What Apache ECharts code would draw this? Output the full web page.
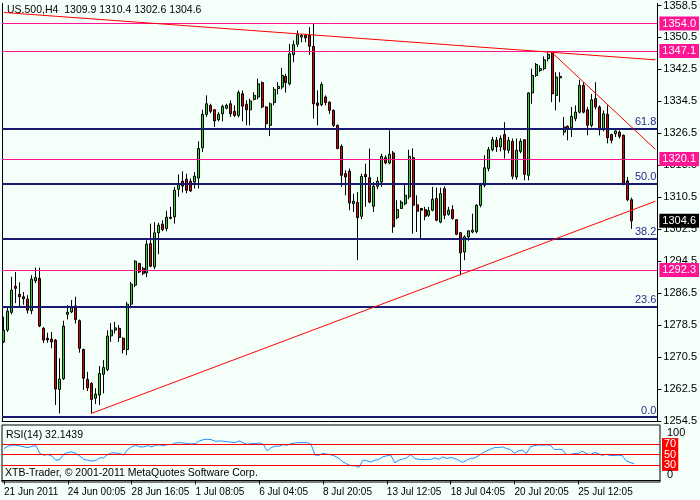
<!DOCTYPE html>
<html><head><meta charset="utf-8">
<script src="https://cdn.jsdelivr.net/npm/echarts@6/dist/echarts.min.js"></script>
<style>html,body{margin:0;padding:0;background:#F5FFFA}#c{width:700px;height:500px}</style>
</head><body><div id="c"></div>
<script>
// ---- data ----
const opens=[1274.3,1277.25,1281.7,1288.2,1286.2,1285.6,1285.0,1282.1,1289.6,1290.2,
1277.7,1275.2,1275.0,1274.75,1262.4,1265.1,1281.2,1281.8,1283.3,1279.6,
1272.4,1264.9,1263.9,1260.2,1261.0,1266.2,1267.4,1275.8,1277.25,1277.7,
1275.2,1272.4,1283.75,1288.5,1293.9,1292.7,1291.6,1298.9,1293.1,1301.6,
1303.75,1302.7,1305.5,1305.6,1312.5,1314.5,1315.0,1314.5,1314.3,1315.3,
1322.9,1331.25,1333.5,1332.4,1329.9,1331.4,1332.8,1333.9,1332.0,1331.0,
1336.4,1333.75,1332.4,1335.0,1335.6,1339.2,1333.1,1328.5,1334.2,1337.7,
1338.1,1340.75,1338.9,1346.2,1348.8,1350.6,1351.0,1351.0,1348.25,1334.1,
1333.7,1335.6,1334.3,1332.25,1328.5,1323.25,1316.4,1317.0,1308.9,1309.2,
1305.75,1316.2,1315.4,1308.25,1313.25,1314.3,1320.4,1319.1,1321.6,1305.4,
1307.7,1308.9,1310.6,1320.4,1308.6,1307.7,1307.4,1306.0,1307.25,1310.2,
1304.3,1312.65,1306.25,1307.4,1304.9,1301.65,1296.8,1300.6,1301.8,1301.9,
1308.5,1313.5,1317.7,1322.4,1324.75,1323.1,1326.2,1322.25,1324.5,1315.6,
1322.0,1324.9,1316.0,1336.6,1341.0,1342.25,1342.7,1345.2,1346.6,1336.0,
1340.75,1326.8,1328.25,1327.9,1330.2,1331.8,1338.5,1332.4,1328.5,1335.2,
1333.1,1327.4,1331.25,1326.2,1326.4,1326.8,1326.0,1314.6,1309.9];
const highs=[1280.6,1283.0,1290.6,1291.8,1289.2,1286.8,1286.0,1291.0,1292.9,1292.9,
1278.0,1276.6,1276.8,1275.0,1270.2,1279.6,1283.5,1284.75,1285.6,1279.9,
1272.6,1266.8,1264.2,1262.7,1268.25,1269.75,1277.2,1279.0,1279.3,1278.5,
1275.5,1284.3,1289.3,1294.75,1294.1,1293.1,1299.75,1303.9,1304.3,1304.1,
1304.75,1307.1,1308.1,1313.1,1316.2,1317.0,1316.4,1315.2,1316.8,1324.5,
1332.4,1336.0,1333.9,1332.5,1331.8,1333.7,1333.9,1334.75,1333.5,1337.25,
1337.25,1334.75,1335.2,1336.8,1340.2,1339.5,1333.3,1334.2,1338.1,1339.3,
1342.9,1341.4,1348.9,1349.75,1352.25,1351.4,1351.4,1353.1,1354.0,1337.25,
1339.3,1336.0,1334.5,1332.5,1328.7,1323.75,1317.25,1317.7,1311.4,1311.8,
1316.4,1318.9,1322.7,1314.3,1315.6,1321.4,1321.0,1327.25,1322.1,1309.75,
1309.75,1313.9,1322.4,1322.7,1311.0,1307.8,1308.1,1308.1,1313.1,1312.9,
1312.9,1313.25,1308.1,1308.5,1305.0,1301.8,1301.0,1302.25,1306.4,1308.75,
1314.1,1321.0,1323.1,1325.6,1325.6,1326.0,1329.3,1325.6,1325.2,1325.2,
1325.2,1325.0,1336.8,1342.7,1344.1,1343.5,1345.75,1346.8,1346.8,1341.8,
1341.8,1330.6,1328.5,1333.1,1333.5,1339.9,1339.3,1333.1,1336.4,1339.3,
1333.5,1332.25,1333.5,1326.4,1327.25,1327.25,1326.2,1315.6,1310.4];
const lows=[1274.0,1276.8,1281.2,1284.0,1283.1,1283.6,1281.4,1281.25,1289.0,1278.0,
1274.0,1274.1,1272.7,1258.5,1256.4,1264.8,1279.9,1281.5,1278.9,1271.6,
1262.3,1262.0,1256.4,1258.75,1258.5,1261.4,1267.0,1274.3,1276.4,1274.3,
1271.4,1271.0,1282.7,1288.0,1291.5,1291.0,1290.5,1293.0,1292.5,1296.25,
1302.0,1302.0,1305.0,1303.9,1310.6,1311.7,1311.5,1311.8,1312.7,1312.7,
1321.8,1330.6,1331.5,1328.1,1329.5,1329.5,1332.5,1330.6,1330.6,1330.5,
1329.5,1328.5,1328.5,1334.75,1335.0,1332.8,1327.7,1325.8,1333.5,1336.25,
1337.5,1336.7,1338.5,1344.3,1348.1,1349.3,1349.3,1346.2,1330.2,1328.5,
1333.3,1333.5,1331.4,1328.1,1322.5,1313.1,1311.0,1307.25,1306.8,1294.75,
1305.0,1308.1,1309.0,1306.8,1312.5,1313.1,1318.75,1318.75,1301.6,1305.0,
1307.6,1308.5,1310.0,1301.4,1301.8,1300.2,1304.75,1305.6,1307.0,1304.5,
1304.0,1305.0,1305.9,1304.9,1301.0,1291.0,1294.75,1299.6,1301.5,1301.5,
1308.0,1313.0,1317.0,1322.0,1321.85,1322.0,1320.2,1321.5,1315.0,1314.9,
1321.5,1314.75,1314.75,1333.9,1340.6,1341.8,1342.25,1344.5,1334.3,1332.25,
1334.3,1326.0,1324.75,1325.6,1329.5,1331.5,1331.5,1326.0,1328.0,1332.5,
1326.0,1327.0,1324.0,1324.0,1325.6,1325.2,1313.5,1309.5,1302.6];
const closes=[1277.25,1282.0,1287.25,1287.7,1285.6,1285.1,1282.25,1290.0,1290.4,1278.3,
1274.75,1274.8,1274.3,1262.5,1265.0,1278.25,1281.7,1282.9,1279.9,1272.7,
1265.2,1262.8,1259.9,1261.2,1266.4,1267.9,1275.75,1277.2,1277.8,1275.4,
1272.4,1283.75,1288.75,1294.5,1291.8,1291.4,1298.75,1293.25,1301.6,1303.5,
1302.4,1305.5,1305.2,1312.25,1313.9,1313.3,1312.25,1312.1,1315.75,1322.7,
1331.25,1333.9,1332.0,1329.6,1331.25,1333.25,1333.5,1331.4,1331.0,1336.7,
1333.3,1332.4,1334.6,1336.0,1338.9,1333.1,1328.9,1333.9,1337.5,1338.25,
1341.0,1339.2,1346.4,1348.7,1351.2,1351.0,1350.4,1348.3,1333.9,1333.5,
1338.7,1334.2,1332.25,1328.5,1322.7,1316.0,1315.6,1309.1,1309.5,1305.4,
1315.75,1315.6,1309.3,1313.25,1314.5,1320.75,1319.1,1321.25,1303.1,1307.4,
1309.3,1311.0,1320.75,1308.5,1307.0,1307.25,1305.75,1307.2,1310.0,1304.75,
1311.4,1306.0,1307.25,1305.2,1301.25,1296.6,1300.6,1302.1,1302.25,1308.5,
1313.5,1317.9,1322.4,1324.9,1323.1,1325.2,1322.4,1324.75,1315.75,1322.25,
1324.5,1316.25,1336.6,1341.0,1343.75,1342.7,1344.9,1346.25,1336.4,1340.6,
1340.4,1328.1,1327.7,1330.75,1331.8,1338.5,1331.8,1328.5,1334.9,1333.1,
1327.4,1331.4,1325.4,1324.75,1327.1,1325.75,1313.9,1309.9,1304.6];
const rsi=[61.4,66,67.8,67.8,66.5,64.6,63.3,66,67,52,
48.7,50,47,39,40.5,50.6,53.8,55,52,47,
40.5,39,37.3,38.6,43.6,43.6,50,53,53,52,
48.7,59.5,64.6,67.8,64.6,64.6,67,64.6,67.8,68.4,
67,69,69,72.2,72.9,72.2,71,70.3,71,76,
78.6,79.2,78.6,75.4,76,75.4,74.8,73.5,72.9,76,
72.2,69.7,71,71,72.2,69.7,57,63.3,66,66,
69,67.8,71,72.2,72.9,72.9,72.9,69.7,48.7,48.7,
52,50.6,49.4,46.8,42.4,36,31.6,28.4,28.4,25.2,
39,38,35.4,39,40.5,45.5,47.5,48.7,34,39,
41,43.6,50,42.4,40.5,40.5,40.5,40.5,43.6,40.5,
45.5,42.4,44.3,42.4,39,34.8,39,42.4,43,47.5,
53,57,60,63.3,63.3,64.6,61.4,59.5,52,57,
58.3,52,64.6,67,68.4,67.8,68.4,67.8,59.5,60,
59.5,50,50,52,52,56.3,52,49.4,53.8,52,
48,50.6,48,48,48.7,48,38,34.8,32.1439];
// x-axis tick labels (every 16th H4 bar)
const tickLabels=['21 Jun 2011','24 Jun 00:05','28 Jun 16:05','1 Jul 08:05','6 Jul 04:05',
'8 Jul 20:05','13 Jul 12:05','18 Jul 04:05','20 Jul 20:05','25 Jul 12:05'];
const tickEvery=16;
const emptyBarsRight=6;
const priceTicks=[1358.5,1350.5,1342.5,1334.5,1326.5,1318.5,1310.5,1302.5,1294.5,1286.5,1278.5,1270.5,1262.5,1254.5];
const levelLines=[1354.0,1347.1,1320.1,1292.3];
const fibNames=['0.0','23.6','38.2','50.0','61.8'];
const fibValues=[1255.5,1283.1,1300.2,1314.0,1327.75];
const rsiLevels=[70,50,30];
const rsiBounds=['100','0'];
// trendlines as [barIndex, price] pairs
const trendLines=[
  [[0,1356.75],[164,1344.9]],
  [[22,1256.4],[164,1309.5]],
  [[138,1346.7],[164,1322.5]]
];
const lastPrice=1304.6;

// ---- build ----
const N=opens.length+emptyBarsRight;
const cats=[];
for(let i=0;i<N;i++){const k=i/tickEvery;cats.push(Number.isInteger(k)&&k<tickLabels.length?tickLabels[k]:'');}
const candleData=opens.map((o,i)=>[o,closes[i],lows[i],highs[i]]);
const FONT='Liberation Sans';
const pink='#ff1493', navy='#191970';

const ml=[];
levelLines.forEach(v=>ml.push({yAxis:v,lineStyle:{color:pink,width:1,type:'solid'},
  label:{show:true,position:'end',distance:2,formatter:v.toFixed(1),color:'#fff',backgroundColor:pink,padding:[2,3,1,3],fontFamily:FONT,fontSize:11}}));
fibValues.forEach((v,i)=>ml.push({yAxis:v,lineStyle:{color:navy,width:2,type:'solid'},
  label:{show:true,position:'insideEndTop',distance:1,formatter:fibNames[i],color:'#2a2a8a',fontFamily:FONT,fontSize:11}}));
trendLines.forEach(t=>ml.push([{coord:t[0],lineStyle:{color:'#ff0000',width:1,type:'solid'}},{coord:t[1]}]));
ml.push({yAxis:lastPrice,lineStyle:{color:'rgba(0,0,0,0)',width:0},label:{show:true,position:'end',distance:2,formatter:lastPrice.toFixed(1),color:'#fff',backgroundColor:'#000',padding:[2,3,1,3],fontFamily:FONT,fontSize:11}});

const rsiMl=rsiLevels.map(v=>({yAxis:v,lineStyle:{color:'#ff0000',width:1,type:'solid'},
  label:{show:true,position:'end',distance:2,formatter:String(v),color:'#fff',backgroundColor:'#ff0000',padding:[1,2,0,2],fontFamily:FONT,fontSize:11}}));

const chart=echarts.init(document.getElementById('c'),null,{renderer:'canvas'});
chart.setOption({
  animation:false,
  backgroundColor:'#F5FFFA',
  textStyle:{fontFamily:FONT},
  grid:[
    {left:2,top:3,width:658,height:418,show:false},
    {left:2,top:425,width:658,height:57,show:true,borderColor:'#000',borderWidth:1,backgroundColor:'transparent'}
  ],
  xAxis:[
    {type:'category',gridIndex:0,data:cats,boundaryGap:true,axisLine:{show:true,lineStyle:{color:'#000'}},axisTick:{show:false},axisLabel:{show:false},splitLine:{show:false}},
    {type:'category',gridIndex:1,data:cats,boundaryGap:true,axisLine:{show:true,lineStyle:{color:'#000'}},
     axisTick:{show:true,alignWithLabel:true,length:4,interval:(i,v)=>v!=='',lineStyle:{color:'#000'}},
     axisLabel:{show:true,interval:(i,v)=>v!=='',align:'left',margin:5,color:'#000',fontSize:10,fontFamily:FONT},splitLine:{show:false}}
  ],
  yAxis:[
    {type:'value',gridIndex:0,position:'right',min:1254.5,max:1359,scale:true,
     axisLine:{show:true,lineStyle:{color:'#000'}},
     axisTick:{show:true,length:4,customValues:priceTicks,lineStyle:{color:'#000'}},
     axisLabel:{show:true,customValues:priceTicks,formatter:v=>v.toFixed(1),margin:6,color:'#000',fontSize:11,fontFamily:FONT},
     splitLine:{show:false}},
    {type:'value',gridIndex:0,position:'left',min:1254.5,max:1359,axisLine:{show:true,lineStyle:{color:'#000'}},axisTick:{show:false},axisLabel:{show:false},splitLine:{show:false}},
    {type:'value',gridIndex:1,position:'right',min:-2.9,max:106.7,
     axisLine:{show:false},axisTick:{show:false},axisLabel:{show:false},splitLine:{show:false}}
  ],
  series:[
    {type:'candlestick',xAxisIndex:0,yAxisIndex:0,data:candleData,barWidth:2.5,
     itemStyle:{color:'#22dd22',color0:'#dd0000',borderColor:'#000',borderColor0:'#000',borderWidth:1},
     markLine:{silent:true,symbol:'none',animation:false,data:ml}},
    {type:'line',xAxisIndex:1,yAxisIndex:2,data:rsi,showSymbol:false,symbol:'none',
     lineStyle:{color:'#1e90ff',width:1},
     markLine:{silent:true,symbol:'none',animation:false,data:rsiMl}}
  ],
  graphic:[
    {type:'text',left:7,top:5,style:{text:'US.500,H4  1309.9 1310.4 1302.6 1304.6',font:'10.5px '+FONT,fill:'#000'}},
    {type:'text',left:6,top:430,style:{text:'RSI(14) 32.1439',font:'10.5px '+FONT,fill:'#000'}},
    {type:'text',left:5,top:468,style:{text:'XTB-Trader, © 2001-2011 MetaQuotes Software Corp.',font:'10.5px '+FONT,fill:'#000'}},
    {type:'text',x:667,y:433,z:100,style:{text:rsiBounds[0],x:0,y:0,font:'11px '+FONT,fill:'#000',textVerticalAlign:'middle'}},
    {type:'text',x:667,y:469,z:100,style:{text:rsiBounds[1],x:0,y:0,font:'11px '+FONT,fill:'#000',textVerticalAlign:'top'}}
  ]
});
</script></body></html>
